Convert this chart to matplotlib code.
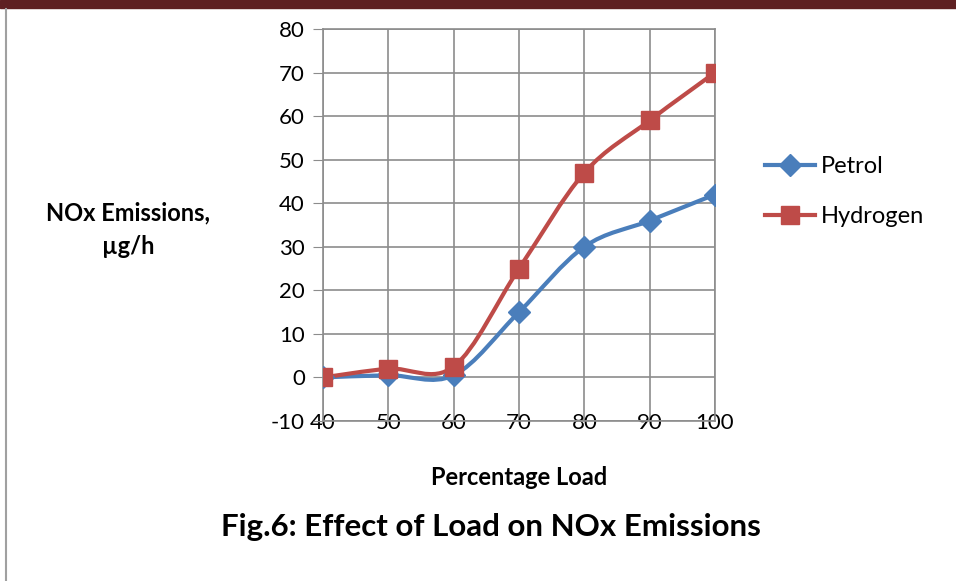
import matplotlib
matplotlib.use("Agg")
import matplotlib.pyplot as plt
import numpy as np
from matplotlib.path import Path
from matplotlib.patches import PathPatch, Rectangle
from matplotlib.lines import Line2D

plt.rcParams['font.family'] = ['Lato', 'DejaVu Sans']
plt.rcParams['axes.unicode_minus'] = False

# data
load = [40, 50, 60, 70, 80, 90, 100]
petrol = [0, 0.5, 0.5, 15, 30, 36, 42]
hydrogen = [0, 2, 2.5, 25, 47, 59, 70]

blue = '#4a7ebb'
red = '#be4b48'


def smooth_path(xs, ys):
    # excel-like smoothed line: bezier segments with catmull-rom control points
    pts = np.column_stack([xs, ys]).astype(float)
    n = len(pts)
    verts = [pts[0]]
    codes = [Path.MOVETO]
    for i in range(n - 1):
        p0 = pts[i - 1] if i > 0 else pts[i]
        p1 = pts[i]
        p2 = pts[i + 1]
        p3 = pts[i + 2] if i + 2 < n else pts[i + 1]
        c1 = p1 + (p2 - p0) / 6
        c2 = p2 - (p3 - p1) / 6
        verts += [c1, c2, p2]
        codes += [Path.CURVE4] * 3
    return Path(verts, codes)


fig = plt.figure(figsize=(9.56, 5.81), dpi=100)
ax = fig.add_axes([0.3379, 0.2754, 0.41, 0.6747])

for ys, col, mk, ms in [(petrol, blue, 'D', 11), (hydrogen, red, 's', 13)]:
    ax.add_patch(PathPatch(smooth_path(load, ys), fill=False, edgecolor=col,
                           lw=3, capstyle='round', zorder=3))
    ax.plot(load, ys, linestyle='none', marker=mk, markersize=ms,
            color=col, zorder=4)

ax.set_xlim(40, 100)
ax.set_ylim(-10, 80)
ax.set_xticks(load)
ax.set_yticks(np.arange(-10, 81, 10))
ax.grid(True, color='#8c8c8c', lw=1.2)
ax.set_axisbelow(True)
for s in ax.spines.values():
    s.set_color('#8c8c8c')
    s.set_linewidth(1.2)
ax.tick_params(axis='y', length=7, color='#8c8c8c', labelsize=16, pad=6)
ax.tick_params(axis='x', length=0, labelsize=16, pad=-6)

ax.set_xlabel('Percentage Load', fontsize=17, fontweight='bold', labelpad=24)

fig.text(0.134, 0.605, 'NOx Emissions,\n\u00b5g/h', ha='center', va='center',
         fontsize=17, fontweight='bold', linespacing=1.55)
fig.text(0.514, 0.093, 'Fig.6: Effect of Load on NOx Emissions', ha='center',
         va='center', fontsize=22.5, fontweight='bold')

handles = [Line2D([], [], color=blue, lw=3, marker='D', markersize=11),
           Line2D([], [], color=red, lw=3, marker='s', markersize=13)]
fig.legend(handles, ['Petrol', 'Hydrogen'], loc='center left',
           bbox_to_anchor=(0.778, 0.670), frameon=False, fontsize=17,
           handlelength=2.1, handletextpad=0.25, labelspacing=1.25)

# page decorations
fig.patches.append(Rectangle((0, 1 - 8 / 581), 1, 8 / 581, transform=fig.transFigure,
                             color='#5e2022', zorder=0))
fig.add_artist(Line2D([6 / 956, 6 / 956], [0, 1 - 9 / 581], transform=fig.transFigure,
                      color='#a0a0a0', lw=1.5))

fig.savefig('out.png', dpi=100)
